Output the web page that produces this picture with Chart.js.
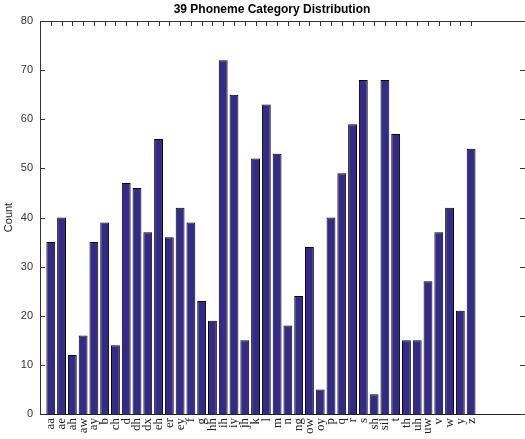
<!DOCTYPE html>
<html>
<head>
<meta charset="utf-8">
<script src="https://cdn.jsdelivr.net/npm/chart.js@4"></script>
<style>
  body { margin: 0; background: #fff; }
  #wrap { width: 525px; height: 439px; }
</style>
</head>
<body>
<div id="wrap"><canvas id="phonemeChart" width="525" height="439"></canvas></div>
<script>
const phonemes = ["aa","ae","ah","aw","ay","b","ch","d","dh","dx","eh","er","ey","f","g","hh","ih","iy","jh","k",
                  "l","m","n","ng","ow","oy","p","q","r","s","sh","sil","t","th","uh","uw","v","w","y","z"];
const counts = [35,40,12,16,35,39,14,47,46,37,56,36,42,39,23,19,72,65,15,52,
                63,53,18,24,34,5,40,49,59,68,4,68,57,15,15,27,37,42,21,54];
const yTicks = [0,10,20,30,40,50,60,70,80];
const titleText = "39 Phoneme Category Distribution";

// matlab style frame: inward ticks, top border, title
const framePlugin = {
  id: "frame",
  afterDraw(chart) {
    const { ctx, chartArea: a, scales } = chart;
    ctx.save();
    ctx.strokeStyle = "#333";
    ctx.lineWidth = 1;
    ctx.beginPath();
    ctx.moveTo(a.left, a.top + 0.5);
    ctx.lineTo(a.right, a.top + 0.5);
    phonemes.forEach((p, i) => {
      const px = Math.round(scales.x.getPixelForValue(i + 1)) + 0.5;
      ctx.moveTo(px, a.top);
      ctx.lineTo(px, a.top + 5);
    });
    yTicks.forEach(v => {
      const py = Math.round(scales.y.getPixelForValue(v)) + 0.5;
      ctx.moveTo(a.left, py);
      ctx.lineTo(a.left + 5, py);
      ctx.moveTo(a.right - 5, py);
      ctx.lineTo(a.right, py);
    });
    ctx.stroke();

    ctx.fillStyle = "#000";
    ctx.font = "bold 12px 'Liberation Sans', Arial, sans-serif";
    ctx.textAlign = "center";
    ctx.textBaseline = "middle";
    ctx.fillText(titleText, 272, 10);
    ctx.restore();
  }
};

new Chart(document.getElementById("phonemeChart"), {
  type: "bar",
  data: {
    datasets: [{
      label: "Count",
      data: counts.map((c, i) => ({ x: i + 1, y: c })),
      backgroundColor: "#352B87",
      borderColor: "#000",
      borderWidth: 1,
      barPercentage: 0.82,
      categoryPercentage: 1.0
    }]
  },
  options: {
    responsive: false,
    animation: false,
    layout: { padding: { top: 21, right: 0, left: 0, bottom: 0 } },
    plugins: {
      legend: { display: false },
      title: { display: false },
      tooltip: { enabled: false }
    },
    scales: {
      x: {
        type: "linear",
        min: 0,
        max: 45,
        offset: false,
        grid: { display: false, drawTicks: false },
        border: { display: true, color: "#222", width: 1 },
        afterFit: s => { s.height = 25; s.paddingLeft = 0; s.paddingRight = 0; },
        ticks: {
          stepSize: 1,
          autoSkip: false,
          maxTicksLimit: 100,
          minRotation: 90,
          maxRotation: 90,
          padding: 4,
          color: "#222",
          font: { family: "'Liberation Serif', 'Times New Roman', serif", size: 13 },
          callback: v => phonemes[v - 1] || ""
        }
      },
      y: {
        min: 0,
        max: 80,
        grid: { display: false, drawTicks: false },
        border: { display: true, color: "#333", width: 1 },
        afterFit: s => { s.width = 40; s.paddingTop = 0; s.paddingBottom = 0; },
        title: {
          display: true,
          text: "Count",
          color: "#222",
          padding: { top: 2, bottom: 0 },
          font: { family: "'Liberation Sans', Arial, sans-serif", size: 11 }
        },
        ticks: {
          stepSize: 10,
          padding: 7,
          color: "#333",
          font: { family: "'Liberation Sans', Arial, sans-serif", size: 11 }
        }
      }
    }
  },
  plugins: [framePlugin]
});
</script>
</body>
</html>
